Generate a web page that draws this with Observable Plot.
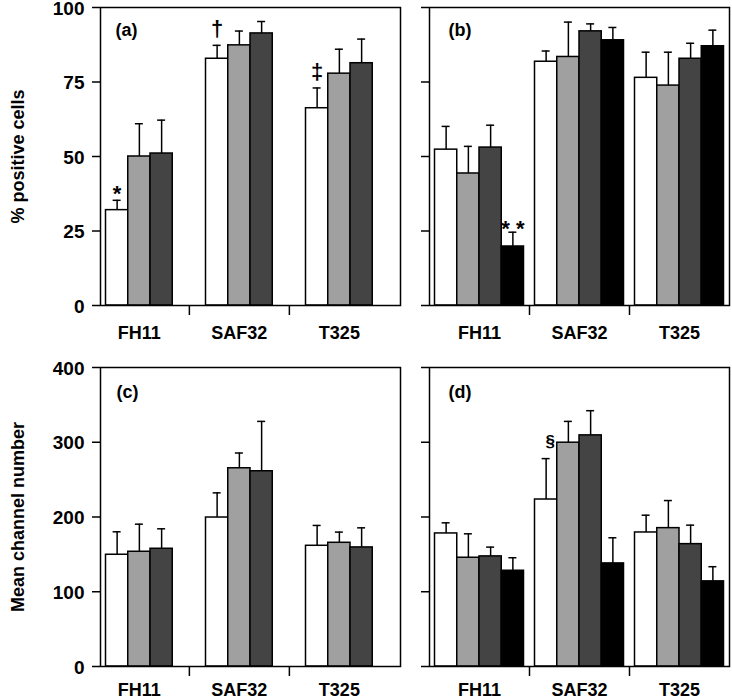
<!DOCTYPE html>
<html><head><meta charset="utf-8">
<script src="https://cdn.jsdelivr.net/npm/d3@7"></script>
<script src="https://cdn.jsdelivr.net/npm/@observablehq/plot@0.6"></script>
<style>
body{margin:0;background:#fff;}
#fig{position:relative;width:732px;height:699px;}
#fig svg{position:absolute;overflow:visible;}
</style></head><body><div id="fig"></div>
<script>
// ---------- data ----------
const groups = ["FH11", "SAF32", "T325"];
const series = ["Series 1", "Series 2", "Series 3", "Series 4"];
const seriesColors = ["#ffffff", "#a0a0a0", "#444444", "#000000"];

// (a) % positive cells, 3 series
const aMeans  = [[32, 50, 51], [82.8, 87.3, 91.3], [66.2, 77.8, 81.3]];
const aErrors = [[3.3, 11, 11.2], [4.5, 4.8, 4], [6.8, 8.2, 8.1]];
// (b) % positive cells, 4 series
const bMeans  = [[52.3, 44.3, 53, 19.8], [81.8, 83.4, 92, 89], [76.4, 73.8, 82.8, 87]];
const bErrors = [[7.8, 9.1, 7.5, 4.8], [3.6, 11.7, 2.5, 4.3], [8.6, 11.2, 5.2, 5.4]];
// (c) mean channel number, 3 series
const cMeans  = [[149.5, 153.5, 157.5], [199.3, 265.2, 261.2], [161.5, 165.5, 159.3]];
const cErrors = [[30.7, 36.9, 26.7], [33, 20.4, 66.7], [27.2, 14.3, 26.2]];
// (d) mean channel number, 4 series
const dMeans  = [[178, 145.5, 147.3, 128.1], [223.4, 299.4, 309.2, 137.9], [179.3, 185.1, 163.7, 113.9]];
const dErrors = [[14.2, 32, 12.4, 17.4], [54.7, 28.5, 33, 34.3], [23.1, 36.9, 25.4, 19.6]];

const pctTicks = [0, 25, 50, 75, 100];
const mcnTicks = [0, 100, 200, 300, 400];
const pctLabel = "% positive cells";
const mcnLabel = "Mean channel number";

const annotations = [
  {panel: "a", group: "FH11", series: 0, symbol: "*"},
  {panel: "a", group: "SAF32", series: 0, symbol: "†"},
  {panel: "a", group: "T325", series: 0, symbol: "‡"},
  {panel: "b", group: "FH11", series: 3, symbol: "* *"},
  {panel: "d", group: "SAF32", series: 0, symbol: "§"}
];

// ---------- layout / style ----------
const FONT = "'Liberation Sans', Arial, Helvetica, sans-serif";
const groupBand = 0.89;          // fraction of group step used by 4 bar slots
const slot = groupBand / 4;
const capHalf = 0.04;
const annStyle = {
  "*":   {dx: 0, dy: 1,   size: 22, weight: "bold"},
  "†":   {dx: 0, dy: -9,  size: 22, weight: "bold"},
  "‡":   {dx: 0, dy: -9,  size: 22, weight: "bold"},
  "* *": {dx: 0, dy: 4,   size: 22, weight: "bold"},
  "§":   {dx: 4, dy: -12, size: 17, weight: "bold"}
};

function makePanel(cfg) {
  const {key, means, errors, yDomain, yTicks, showTickLabels, yLabel,
         left, top, width, height, mL, mR, mT, mB, labelDy, tagDx, tagDy} = cfg;
  const n = means[0].length;
  const rows = [];
  means.forEach((vals, gi) => vals.forEach((v, si) => {
    const x1 = gi - groupBand / 2 + si * slot;
    rows.push({group: groups[gi], series: series[si], si, x1, x2: x1 + slot,
               xc: x1 + slot / 2, value: v, top: v + errors[gi][si]});
  }));
  const labelPos = groups.map((g, gi) => gi - groupBand / 2 + n * slot / 2);
  const sepTicks = groups.slice(1).map((g, i) => {
    const end = i - groupBand / 2 + n * slot;
    const next = i + 1 - groupBand / 2;
    return (end + next) / 2;
  });

  const marks = [
    Plot.rect(rows, {x1: "x1", x2: "x2", y1: 0, y2: "value", fill: "series",
                     stroke: "black", strokeWidth: 1.5}),
    Plot.ruleX(rows, {x: "xc", y1: "value", y2: "top", stroke: "black", strokeWidth: 1.5}),
    Plot.ruleY(rows, {y: "top", x1: d => d.xc - capHalf, x2: d => d.xc + capHalf,
                      stroke: "black", strokeWidth: 1.5}),
    Plot.frame({stroke: "black", strokeWidth: 1.5}),
    Plot.axisY({ticks: yTicks, tickSize: 8, label: null, tickFormat: () => "",
                strokeWidth: 1.5}),
    Plot.axisX({ticks: sepTicks, tickSize: 10, tickFormat: () => "", label: null,
                strokeWidth: 1.5}),
    Plot.text(groups, {x: (d, i) => labelPos[i], frameAnchor: "bottom", dy: labelDy,
                       lineAnchor: "middle", text: d => d, fontSize: 18, fontWeight: "bold"}),
    Plot.text([`(${key})`], {frameAnchor: "top-left", textAnchor: "start", lineAnchor: "top",
                             dx: tagDx, dy: tagDy, fontSize: 18, fontWeight: "bold"})
  ];
  if (showTickLabels) {
    marks.push(Plot.text(yTicks, {y: d => d, text: d => String(d), frameAnchor: "left",
                                  dx: -16, dy: 1, textAnchor: "end", lineAnchor: "middle",
                                  fontSize: 19, fontWeight: "bold"}));
  }
  if (yLabel) {
    marks.push(Plot.text([yLabel], {frameAnchor: "left", rotate: -90, dx: -82,
                                    textAnchor: "middle", lineAnchor: "middle",
                                    fontSize: 18, fontWeight: "bold"}));
  }
  annotations.filter(a => a.panel === key).forEach(a => {
    const r = rows.find(d => d.group === a.group && d.si === a.series);
    const s = annStyle[a.symbol];
    marks.push(Plot.text([a], {x: () => r.xc, y: () => r.top, text: "symbol",
                               lineAnchor: "bottom", dx: s.dx, dy: s.dy,
                               fontSize: s.size, fontWeight: s.weight}));
  });

  const svg = Plot.plot({
    width, height, marginLeft: mL, marginRight: mR, marginTop: mT, marginBottom: mB,
    x: {domain: [-0.5, 2.5], axis: null},
    y: {domain: yDomain, axis: null},
    color: {domain: series, range: seriesColors},
    style: {fontFamily: FONT, color: "black", background: "transparent", overflow: "visible"},
    marks
  });
  svg.style.left = left + "px";
  svg.style.top = top + "px";
  document.getElementById("fig").appendChild(svg);
}

makePanel({key: "a", means: aMeans, errors: aErrors, yDomain: [0, 100], yTicks: pctTicks,
  showTickLabels: true, yLabel: pctLabel, left: 0, top: 0, width: 410, height: 340,
  mL: 100, mR: 10, mT: 7, mB: 35, labelDy: 28, tagDx: 15, tagDy: 16});
makePanel({key: "b", means: bMeans, errors: bErrors, yDomain: [0, 100], yTicks: pctTicks,
  showTickLabels: false, yLabel: null, left: 410, top: 0, width: 322, height: 340,
  mL: 19, mR: 3, mT: 7, mB: 35, labelDy: 28, tagDx: 19, tagDy: 16});
makePanel({key: "c", means: cMeans, errors: cErrors, yDomain: [0, 400], yTicks: mcnTicks,
  showTickLabels: true, yLabel: mcnLabel, left: 0, top: 340, width: 410, height: 359,
  mL: 100, mR: 10, mT: 27, mB: 33, labelDy: 24, tagDx: 16, tagDy: 18});
makePanel({key: "d", means: dMeans, errors: dErrors, yDomain: [0, 400], yTicks: mcnTicks,
  showTickLabels: false, yLabel: null, left: 410, top: 340, width: 322, height: 359,
  mL: 19, mR: 3, mT: 27, mB: 33, labelDy: 24, tagDx: 19, tagDy: 18});
</script>
</body></html>
